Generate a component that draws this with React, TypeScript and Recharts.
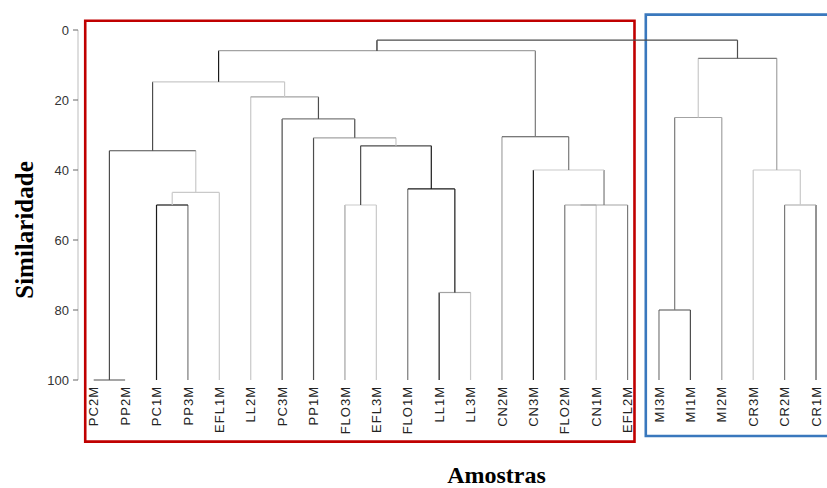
import { ComposedChart, XAxis, YAxis, ReferenceLine, ReferenceArea, Label, Scatter } from "recharts"

const leaves = [
  "PC2M", "PP2M", "PC1M", "PP3M", "EFL1M", "LL2M", "PC3M", "PP1M", "FLO3M", "EFL3M", "FLO1M", "LL1M",
  "LL3M", "CN2M", "CN3M", "FLO2M", "CN1M", "EFL2M", "MI3M", "MI1M", "MI2M", "CR3M", "CR2M", "CR1M",
]
const leafLevel = 100

// [left node, right node, similarity] - leaves are 0..23, merge k creates node 24 + k
const merges: [number, number, number][] = [
  [0, 1, 100],
  [2, 3, 50],
  [25, 4, 46.4],
  [24, 26, 34.5],
  [8, 9, 50],
  [11, 12, 75],
  [10, 29, 45.4],
  [28, 30, 33.1],
  [7, 31, 30.8],
  [6, 32, 25.4],
  [5, 33, 19.1],
  [27, 34, 14.8],
  [15, 16, 50],
  [36, 17, 50],
  [14, 37, 40],
  [13, 38, 30.5],
  [35, 39, 5.9],
  [18, 19, 80],
  [41, 20, 25],
  [22, 23, 50],
  [21, 43, 40],
  [42, 44, 8.1],
  [40, 45, 2.9],
]

const yTicks = [0, 20, 40, 60, 80, 100]

// group boxes, in leaf units
const groups = [
  { from: 0, to: 17, color: "#c00000" },
  { from: 18, to: 24, color: "#3a78bd" },
]

const K = "#1a1a1a"
const D = "#4d4d4d"
const M = "#7a7a7a"
const G = "#a3a3a3"
const L = "#c9c9c9"

// [left vertical, horizontal, right vertical]
const mergeColors = [
  [D, D, D],
  [K, K, M],
  [L, L, L],
  [D, D, L],
  [G, L, L],
  [K, G, L],
  [M, K, K],
  [D, D, K],
  [D, G, L],
  [D, M, D],
  [L, G, D],
  [D, L, L],
  [M, G, L],
  [G, G, M],
  [K, L, M],
  [G, D, M],
  [K, G, M],
  [M, D, D],
  [M, G, G],
  [M, G, D],
  [L, L, L],
  [L, M, G],
  [K, D, D],
]

const leafPoints = leaves.map((name, i) => ({ i, name, h: leafLevel }))

function buildSegments() {
  const xs = leaves.map((_, i) => i)
  const hs = leaves.map(() => leafLevel)
  const segs: { key: string; a: { x: number; y: number }; b: { x: number; y: number }; color: string }[] = []
  merges.forEach(([l, r, h], k) => {
    const [cl, ch, cr] = mergeColors[k]
    segs.push({ key: `${k}l`, a: { x: xs[l], y: hs[l] }, b: { x: xs[l], y: h }, color: cl })
    segs.push({ key: `${k}r`, a: { x: xs[r], y: hs[r] }, b: { x: xs[r], y: h }, color: cr })
    segs.push({ key: `${k}h`, a: { x: xs[l], y: h }, b: { x: xs[r], y: h }, color: ch })
    xs.push((xs[l] + xs[r]) / 2)
    hs.push(h)
  })
  return segs
}

const segments = buildSegments()

function LeafTick({ x, y, payload }: any) {
  return (
    <text
      x={x}
      y={y}
      dx={-6}
      dy="0.36em"
      transform={`rotate(-90 ${x} ${y})`}
      textAnchor="end"
      fontSize={13}
      letterSpacing={1}
      fill="#222"
      fontFamily="'Liberation Sans', Arial, sans-serif"
    >
      {leaves[payload.value]}
    </text>
  )
}

function YTitle({ viewBox }: any) {
  const cx = 33
  const cy = viewBox.y + viewBox.height / 2 + 25
  return (
    <text
      x={cx}
      y={cy}
      transform={`rotate(-90 ${cx} ${cy})`}
      textAnchor="middle"
      fontSize={25}
      fontWeight="bold"
      fontFamily="'Liberation Serif', 'Times New Roman', serif"
      fill="#000"
    >
      Similaridade
    </text>
  )
}

function XTitle({ viewBox }: any) {
  return (
    <text
      x={viewBox.x + viewBox.width / 2 + 44}
      y={viewBox.y + 103}
      textAnchor="middle"
      fontSize={24}
      fontWeight="bold"
      fontFamily="'Liberation Serif', 'Times New Roman', serif"
      fill="#000"
    >
      Amostras
    </text>
  )
}

export default function App() {
  return (
    <div style={{ position: "absolute", left: 0, top: 0, width: 827, height: 488, background: "#fff" }}>
      <ComposedChart width={827} height={488} data={leafPoints} margin={{ top: 30, right: 0, bottom: 8, left: 0 }}>
        <XAxis
          type="number"
          dataKey="i"
          domain={[-0.5, 23.35]}
          ticks={leaves.map((_, i) => i)}
          interval={0}
          tick={<LeafTick />}
          tickLine={false}
          axisLine={false}
          tickSize={0}
          tickMargin={0}
          height={100}
        >
          <Label content={<XTitle />} />
        </XAxis>
        <YAxis
          type="number"
          domain={[0, 100]}
          reversed
          ticks={yTicks}
          width={78}
          tickSize={5}
          tickMargin={4}
          axisLine={{ stroke: "#bdbdbd" }}
          tickLine={{ stroke: "#666" }}
          tick={{ fontSize: 13, fill: "#333", fontFamily: "'Liberation Sans', Arial, sans-serif" }}
        >
          <Label content={<YTitle />} />
        </YAxis>
        <Scatter dataKey="h" shape={() => null} isAnimationActive={false} />
        {segments.map((s) => (
          <ReferenceLine key={s.key} segment={[s.a, s.b]} stroke={s.color} strokeWidth={1.2} ifOverflow="visible" />
        ))}
        <ReferenceArea
          x1={groups[0].from - 0.27}
          x2={groups[0].to + 0.22}
          y1={-2.66}
          y2={117.6}
          fill="none"
          stroke={groups[0].color}
          strokeWidth={2.6}
          ifOverflow="visible"
        />
        <ReferenceArea
          x1={groups[1].from - 0.42}
          x2={groups[1].to}
          y1={-4.4}
          y2={116}
          fill="none"
          stroke={groups[1].color}
          strokeWidth={2.6}
          ifOverflow="visible"
        />
      </ComposedChart>
    </div>
  )
}
